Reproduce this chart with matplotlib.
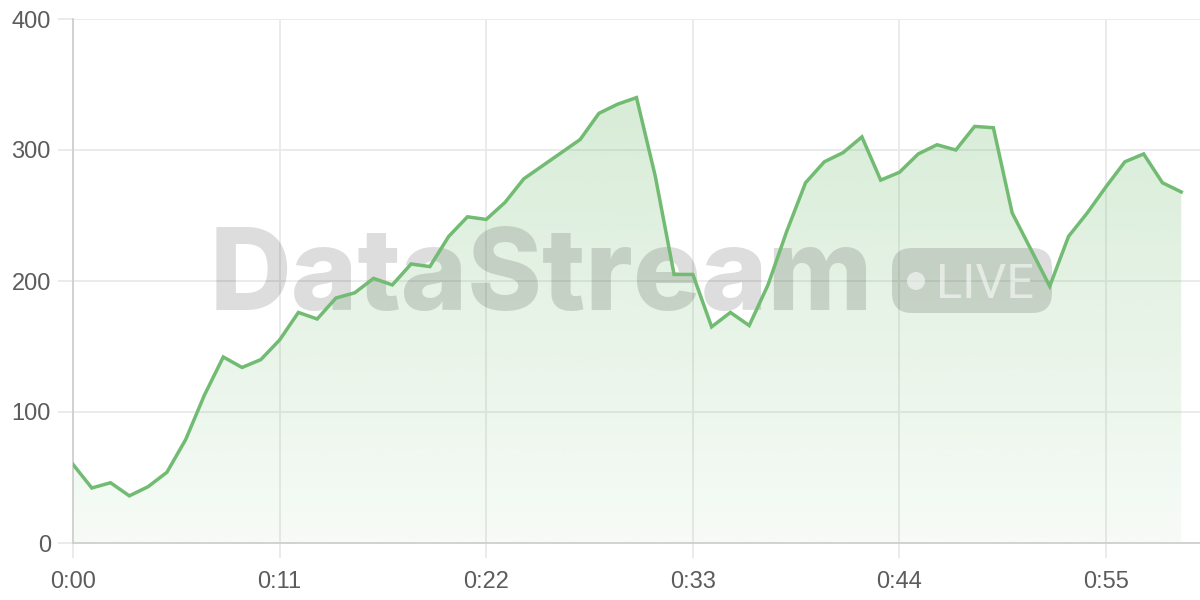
import numpy as np
import matplotlib
matplotlib.use("Agg")
import matplotlib.pyplot as plt
import matplotlib.transforms as mtransforms
from matplotlib.patches import FancyBboxPatch, Circle

# one sample per second, 0:00 .. 0:59
seconds = list(range(60))
values = [60, 42, 46, 36, 43, 54, 79, 113, 142, 134,
          140, 155, 176, 171, 187, 191, 202, 197, 213, 211,
          234, 249, 247, 260, 278, 288, 298, 308, 328, 335,
          340, 280, 205, 205, 165, 176, 166, 197, 238, 275,
          291, 298, 310, 277, 283, 297, 304, 300, 318, 317,
          252, 224, 196, 234, 252, 272, 291, 297, 275, 268]
xticks = [0, 11, 22, 33, 44, 55]
xtick_labels = ["0:00", "0:11", "0:22", "0:33", "0:44", "0:55"]
yticks = [0, 100, 200, 300, 400]

line_color = "#72bb72"
grid_color = "#e9e9e9"
label_color = "#5c5c5c"
plt.rcParams['font.family'] = ['Liberation Sans', 'DejaVu Sans']

fig = plt.figure(figsize=(12, 6), dpi=100)
ax = fig.add_axes([73 / 1200, 57 / 600, 1127 / 1200, 524 / 600])
ax.set_xlim(0, 60)
ax.set_ylim(0, 400)

# gradient fill under the line
x = np.array(seconds)
y = np.array(values)
poly = ax.fill_between(x, y, 0, facecolor="none", edgecolor="none")
grad = np.zeros((256, 2, 4))
rgb = matplotlib.colors.to_rgb(line_color)
grad[:, :, 0], grad[:, :, 1], grad[:, :, 2] = rgb
grad[:, :, 3] = np.linspace(0.32, 0.06, 256)[:, None]
img = ax.imshow(grad, extent=[0, 60, 0, 400], origin="upper", aspect="auto", zorder=1)
img.set_clip_path(poly.get_paths()[0], transform=ax.transData)

ax.plot(x, y, color=line_color, lw=2.5, zorder=5, solid_joinstyle="miter")

# watermark, positioned in figure pixels (origin top-left)
pix = mtransforms.Affine2D().scale(1, -1).translate(0, 600)
wm = (0, 0, 0, 0.135)
ax.text(210, 310, "DataStream", transform=pix, fontsize=81.5, fontweight="heavy",
        family=["Inter", "Liberation Sans"],
        color=wm, ha="left", va="baseline", zorder=3, clip_on=False)
pill = FancyBboxPatch((892 + 20, 248 + 20), 160 - 40, 65 - 40,
                      boxstyle="round,pad=20", transform=pix,
                      facecolor=wm, edgecolor="none", zorder=3, clip_on=False)
ax.add_patch(pill)
ax.add_patch(Circle((916, 281), 9, transform=pix, facecolor=(1, 1, 1, 0.55),
                    edgecolor="none", zorder=4, clip_on=False))
ax.text(936, 298, "LIVE", transform=pix, fontsize=35, family=["Roboto", "DejaVu Sans"],
        color=(1, 1, 1, 0.55), ha="left", va="baseline", zorder=4, clip_on=False)

# axes styling
ax.set_xticks(xticks)
ax.set_xticklabels(xtick_labels)
ax.set_yticks(yticks)
ax.grid(True, color=grid_color, lw=1.3, zorder=0)
ax.set_axisbelow(True)
for s in ["top", "right"]:
    ax.spines[s].set_visible(False)
for s in ["left", "bottom"]:
    ax.spines[s].set_color("#cfcfcf")
    ax.spines[s].set_linewidth(1.3)
ax.tick_params(axis="both", length=11, width=1.3, color=grid_color,
               labelcolor=label_color, labelsize=17)
ax.tick_params(axis="y", pad=5)
ax.tick_params(axis="x", pad=9)

fig.savefig("out.png", dpi=100)
